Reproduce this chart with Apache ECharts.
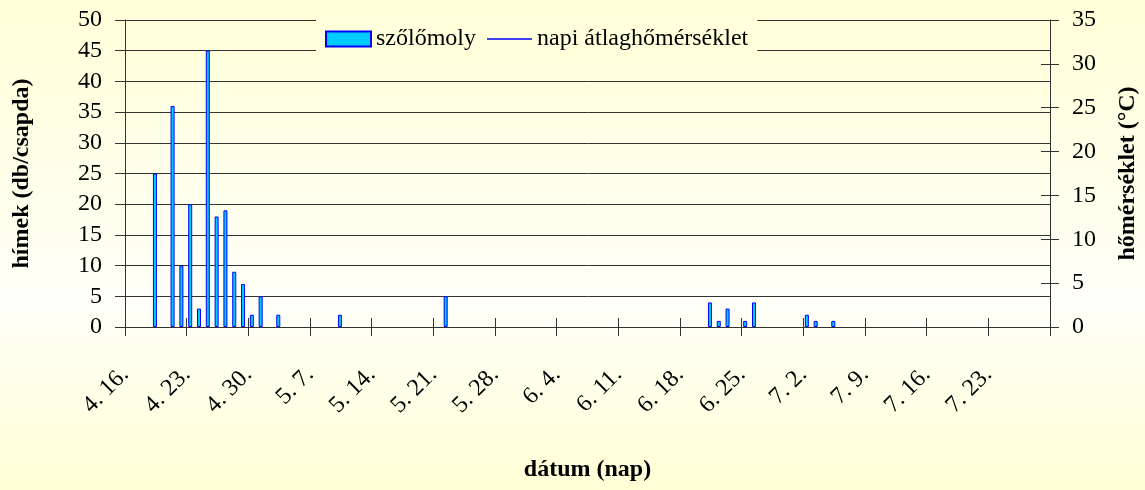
<!DOCTYPE html>
<html>
<head>
<meta charset="utf-8">
<script src="https://cdn.jsdelivr.net/npm/echarts@6/dist/echarts.min.js"></script>
<style>
html,body{margin:0;padding:0;}
#chart{width:1145px;height:490px;}
</style>
</head>
<body>
<div id="chart"></div>
<script>
// ---- data ----
const startDate = '04-16';
const xTickLabels = ['4. 16.','4. 23.','4. 30.','5. 7.','5. 14.','5. 21.','5. 28.','6. 4.','6. 11.','6. 18.','6. 25.','7. 2.','7. 9.','7. 16.','7. 23.',''];
const mothDates = ['04-19','04-21','04-22','04-23','04-24','04-25','04-26','04-27','04-28','04-29','04-30','05-01','05-03','05-10','05-22','06-21','06-22','06-23','06-25','06-26','07-02','07-03','07-05'];
const mothCounts = [25,36,10,20,3,45,18,19,9,7,2,5,2,2,5,4,1,3,1,4,2,1,1];
const tempDates = [];
const tempValues = [];
const leftTicks = [0,5,10,15,20,25,30,35,40,45,50];
const rightTicks = [0,5,10,15,20,25,30,35];

// ---- helpers ----
function dayIndex(md){
  const [m,d] = md.split('-').map(Number);
  const [m0,d0] = startDate.split('-').map(Number);
  const a = Date.UTC(2000,m-1,d), b = Date.UTC(2000,m0-1,d0);
  return Math.round((a-b)/86400000);
}
const mothData = mothDates.map((d,i)=>[dayIndex(d)+0.4, mothCounts[i]]);
const tempData = tempDates.map((d,i)=>[dayIndex(d)+0.5, tempValues[i]]);

const FONT = "'Liberation Serif','Times New Roman',serif";
const axisCol = '#333333';
const gridBox = {left:125,right:95,top:20,bottom:163,containLabel:false,outerBoundsMode:'none'};
const nameStyle = {fontFamily:FONT,fontSize:24,fontWeight:'bold',color:'#000'};
const chart = echarts.init(document.getElementById('chart'));
chart.setOption({
  animation:false,
  backgroundColor:new echarts.graphic.LinearGradient(0,0,0,1,[
    {offset:0,color:'#FFFFD8'},{offset:0.62,color:'#FFFFF8'},{offset:1,color:'#FFFFD6'}]),
  textStyle:{fontFamily:FONT,color:'#000'},
  grid:[Object.assign({},gridBox),Object.assign({},gridBox)],
  legend:{
    left:316, top:17, padding:[10,9,10,9], backgroundColor:'#FFFFDB',
    itemWidth:45, itemHeight:15, itemGap:11,
    textStyle:{fontFamily:FONT,fontSize:24,color:'#000'},
    data:[{name:'szőlőmoly',icon:'rect'},
          {name:'napi átlaghőmérséklet',icon:'path://M0,7L45,7L45,8.4L0,8.4Z',
           itemStyle:{color:'#0000FF',borderWidth:0}}]
  },
  xAxis:[{
    type:'value', gridIndex:0, min:0, max:105, interval:7,
    name:'dátum (nap)', nameLocation:'middle', nameGap:131, nameMoveOverlap:false,
    nameTextStyle:nameStyle,
    axisLine:{show:true,onZero:false,lineStyle:{color:axisCol,width:1}},
    axisTick:{show:true,length:9,lineStyle:{color:axisCol}},
    axisLabel:{rotate:45,margin:44,fontFamily:FONT,fontSize:24,color:'#000',
      formatter:v=>xTickLabels[Math.round(v/7)] ?? ''},
    splitLine:{show:false}
  },{
    type:'value', gridIndex:1, min:0, max:105, interval:7, position:'bottom',
    axisLine:{show:false,onZero:false},
    axisTick:{show:true,inside:true,length:9,lineStyle:{color:axisCol}},
    axisLabel:{show:false}, splitLine:{show:false}
  }],
  yAxis:[{
    type:'value', gridIndex:0, min:0, max:50, interval:5, position:'left',
    name:'hímek (db/csapda)', nameLocation:'middle', nameGap:91, nameRotate:90, nameMoveOverlap:false,
    nameTextStyle:nameStyle,
    axisLine:{show:true,onZero:false,lineStyle:{color:axisCol,width:1}},
    axisTick:{show:true,length:10,lineStyle:{color:axisCol}},
    axisLabel:{margin:23,fontFamily:FONT,fontSize:24,color:'#000',
      formatter:v=>leftTicks.includes(v)?String(v):''},
    splitLine:{show:true,lineStyle:{color:axisCol,width:1}}
  },{
    type:'value', gridIndex:0, min:0, max:35, interval:5, position:'right',
    name:'hőmérséklet (°C)', nameLocation:'middle', nameGap:66, nameRotate:90, nameMoveOverlap:false,
    nameTextStyle:nameStyle,
    axisLine:{show:true,onZero:false,lineStyle:{color:axisCol,width:1}},
    axisTick:{show:true,length:9,lineStyle:{color:axisCol}},
    axisLabel:{margin:22,fontFamily:FONT,fontSize:24,color:'#000',
      formatter:v=>rightTicks.includes(v)?String(v):''},
    splitLine:{show:false}
  },{
    type:'value', gridIndex:1, min:0, max:35, interval:5, position:'right',
    axisLine:{show:false,onZero:false},
    axisTick:{show:true,inside:true,length:9,lineStyle:{color:axisCol}},
    axisLabel:{show:false}, splitLine:{show:false}
  }],
  series:[{
    name:'szőlőmoly', type:'bar', xAxisIndex:0, yAxisIndex:0,
    barWidth:4, data:mothData,
    itemStyle:{color:'#00CCFF',borderColor:'#0000FF',borderWidth:1}
  },{
    name:'napi átlaghőmérséklet', type:'line', xAxisIndex:0, yAxisIndex:1,
    symbol:'none', data:tempData,
    lineStyle:{color:'#0000FF',width:1}, itemStyle:{color:'#0000FF'}
  }]
});
</script>
</body>
</html>
